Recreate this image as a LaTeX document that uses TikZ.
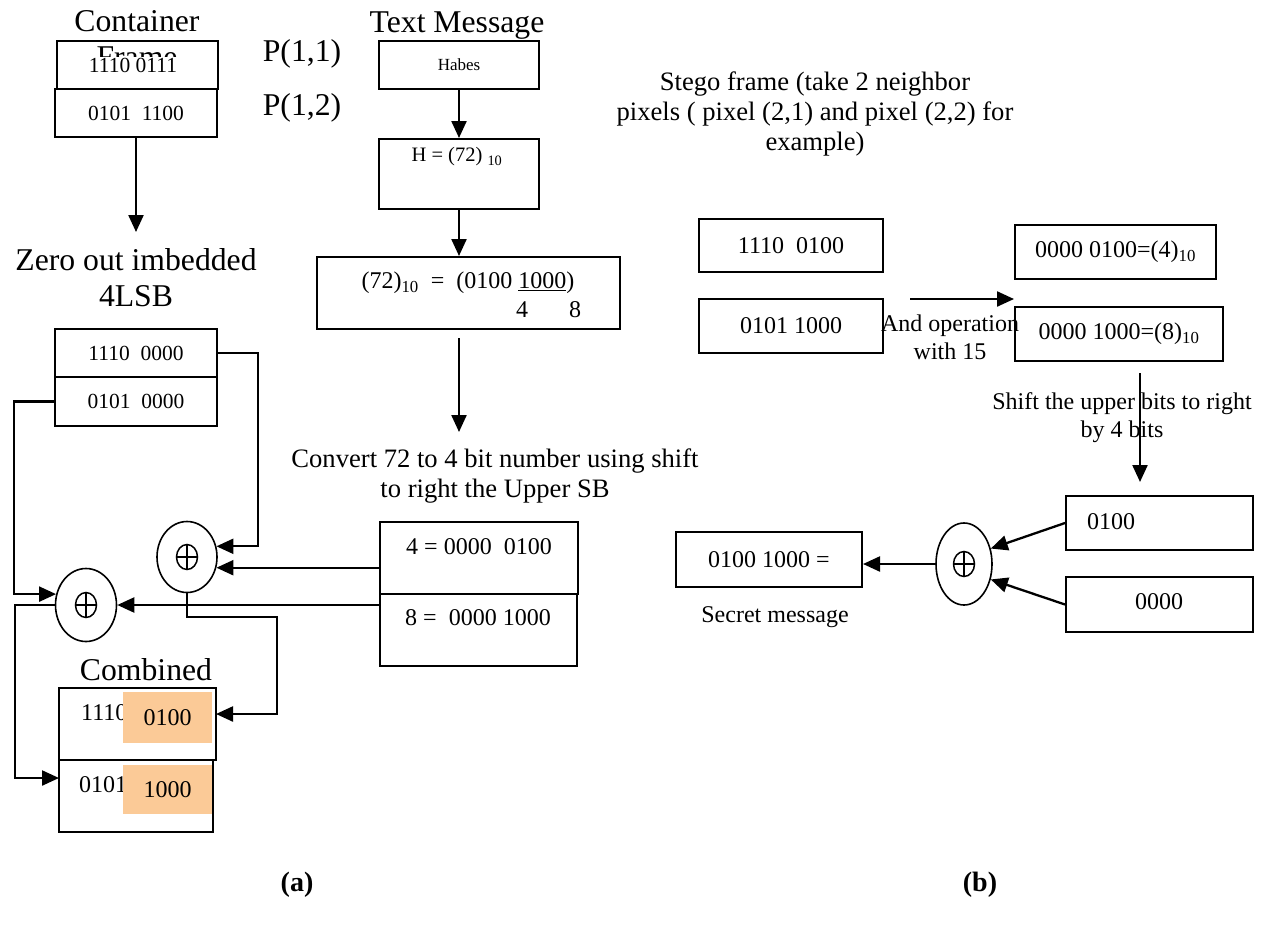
\documentclass[tikz,border=0pt]{standalone}
\usepackage{fontspec}
\setmainfont{Liberation Serif}
\usetikzlibrary{arrows.meta,positioning,shapes.geometric}
\definecolor{lsbfill}{RGB}{251,202,151}
\tikzset{
  box/.style={draw, line width=2pt, inner sep=0pt},
  xor/.style={draw, ellipse, line width=1.6pt, inner sep=0pt,
    path picture={
      \draw[line width=1.5pt] (path picture bounding box.center) ellipse (10.5pt and 12.5pt);
      \draw[line width=1.5pt] ([yshift=12.5pt]path picture bounding box.center) -- ([yshift=-12.5pt]path picture bounding box.center);
      \draw[line width=1.5pt] ([xshift=-10.5pt]path picture bounding box.center) -- ([xshift=10.5pt]path picture bounding box.center);}},
  arr/.style={line width=2.3pt, -{Triangle[length=17pt,width=15pt]}},
  bigtxt/.style={font=\fontsize{31.7}{36}\selectfont, inner sep=0pt, align=center},
  midtxt/.style={font=\fontsize{26.6}{30}\selectfont, inner sep=0pt, align=center},
  smtxt/.style={font=\fontsize{24}{28}\selectfont, inner sep=0pt, align=center},
  boxtxt/.style={font=\fontsize{21.5}{25}\selectfont, inner sep=0pt},
  hilite/.style={fill=lsbfill, inner sep=0pt, font=\fontsize{24}{28}\selectfont}
}

\begin{document}
\begin{tikzpicture}[x=1pt,y=-1pt]
\useasboundingbox (0,0) rectangle (1265,926);

% (a) container frame
\node[bigtxt] (ctitle) at (137,21) {Container};
\node[bigtxt] (cframe) at (137,57.5) {Frame};
\node[box, minimum width=161pt, minimum height=48pt] (p11) at (137.5,65) {};
\node[boxtxt, fill=white, inner sep=1pt] (p11txt) at (133,65) {1110 0111};
\node[box, boxtxt, minimum width=162pt, minimum height=48pt] (p12) at (136,113) {0101\ \ 1100};
\node[bigtxt] (p11lbl) at (302,54) {P(1,1)};
\node[bigtxt] (p12lbl) at (302,108) {P(1,2)};
\coordinate (zin) at (136,232);
\draw[arr] (p12.south) -- (zin);

\node[bigtxt] (zlbl) at (136,278) {Zero out imbedded\\4LSB};
\node[box, boxtxt, minimum width=162pt, minimum height=48pt] (z1) at (136,353) {1110\ \ 0000};
\node[box, boxtxt, minimum width=162pt, minimum height=49pt] (z2) at (136,401.5) {0101\ \ 0000};

\node[xor, minimum width=60pt, minimum height=71pt] (xor1) at (187,557) {};
\node[xor, minimum width=61pt, minimum height=73pt] (xor2) at (86,605) {};

% text message
\node[bigtxt] (tmlbl) at (457,26) {Text Message};
\node[box, font=\fontsize{17}{20}\selectfont, minimum width=160pt, minimum height=48pt] (habes) at (459,65) {Habes};
\node[box, minimum width=160pt, minimum height=70pt] (hbox) at (459,174) {};
\node[font=\fontsize{20.5}{24}\selectfont, inner sep=0pt] (htxt) at (457,157) {H = (72) \textsubscript{10}};
\draw[arr] (habes.south) -- (hbox.north);
\node[box, minimum width=303pt, minimum height=72pt] (sbox) at (468.5,293) {};
\draw[arr] (hbox.south) -- (hbox.south |- sbox.north);
\node[smtxt] (stxt) at (468,283) {(72)\textsubscript{10}\ \ =\ \ (0100 \underline{1000})};
\node[smtxt] (s4) at (522,310) {4};
\node[smtxt] (s8) at (575,310) {8};
\coordinate (cvin) at (459,432);
\draw[arr, shorten <=8pt] (hbox.south |- sbox.south) -- (cvin);
\node[midtxt] (cvlbl) at (495,476) {Convert 72 to 4 bit number using shift\\to right the Upper SB};
\node[box, minimum width=198pt, minimum height=72pt] (four) at (479,558) {};
\node[smtxt] (ftxt) at (479,547) {4 = 0000\ \ 0100};
\node[box, minimum width=197pt, minimum height=72pt] (eight) at (478.5,630) {};
\node[smtxt] (etxt) at (478,618) {8 =\ \ 0000 1000};

% wiring into the xor gates
\draw[arr] (z1.east) -- ++(40,0) |- (xor1.20);
\draw[arr] (z2.west) -- ++(-40,0) |- (xor2.160);
\draw[arr] (four.west |- xor1.-20) -- (xor1.-20);
\draw[arr] (eight.west |- xor2.east) -- (xor2.east);

% combined pixels
\node[bigtxt] (cmblbl) at (146,670) {Combined};
\node[box, minimum width=157pt, minimum height=72pt] (comb1) at (137.5,724) {};
\node[box, minimum width=154pt, minimum height=72pt] (comb2) at (136,796) {};
\node[smtxt, anchor=west] (c1txt) at (81,713) {1110};
\node[hilite, minimum width=89pt, minimum height=51pt] (hl1) at (167.5,717.5) {0100};
\node[smtxt, anchor=west] (c2txt) at (79,785) {0101};
\node[hilite, minimum width=89pt, minimum height=49pt] (hl2) at (167.5,789.5) {1000};
\coordinate (c1in) at (216,714);
\coordinate (c2in) at (59,778);
\draw[arr] (xor1.south) -- ++(0,24) -- ++(90,0) |- (c1in);
\draw[arr] (xor2.west) -- ++(-40,0) |- (c2in);

% (b) stego frame
\node[midtxt] (stego) at (815,114) {Stego frame (take 2 neighbor\\pixels ( pixel (2,1) and pixel (2,2) for\\example)};
\node[box, smtxt, minimum width=184pt, minimum height=53pt] (s1) at (791,245.5) {1110\ \ 0100};
\node[box, smtxt, minimum width=184pt, minimum height=54pt] (s2) at (791,326) {0101 1000};
\node[box, smtxt, minimum width=201pt, minimum height=54pt] (a4) at (1115.5,252) {0000 0100=(4)\textsubscript{10}};
\node[box, smtxt, minimum width=208pt, minimum height=54pt] (a8) at (1119,334) {0000 1000=(8)\textsubscript{10}};
\coordinate (andfrom) at (910,299);
\draw[arr] (andfrom) -- (andfrom -| a8.west);
\node[smtxt] (andlbl) at (950,337) {And operation\\with 15};

\node[smtxt] (shlbl) at (1122,418) {Shift the upper bits to right\\by 4 bits};
\coordinate (shtop) at (1140,373);
\coordinate (shbot) at (1140,482);
\draw[arr] (shtop) -- (shbot);
\node[box, minimum width=187pt, minimum height=54pt] (u4) at (1159.5,523) {};
\node[smtxt] (u4txt) at (1111,522) {0100};
\node[box, minimum width=187pt, minimum height=55pt] (l0) at (1159.5,604.5) {};
\node[smtxt] (l0txt) at (1159,602) {0000};
\node[xor, minimum width=56pt, minimum height=82pt] (xor3) at (964,564) {};
\draw[arr] (u4.west) -- (xor3.30);
\draw[arr] (l0.west) -- (xor3.-30);
\node[box, smtxt, minimum width=186pt, minimum height=55pt] (sec) at (769,559.5) {0100 1000 =};
\draw[arr] (xor3.west) -- (xor3.west -| sec.east);
\node[smtxt] (seclbl) at (775,617) {Secret message};

\node[font=\fontsize{28}{32}\selectfont\bfseries, inner sep=0pt] (capa) at (297,885) {(a)};
\node[font=\fontsize{28}{32}\selectfont\bfseries, inner sep=0pt] (capb) at (980,885) {(b)};
\end{tikzpicture}
\end{document}
